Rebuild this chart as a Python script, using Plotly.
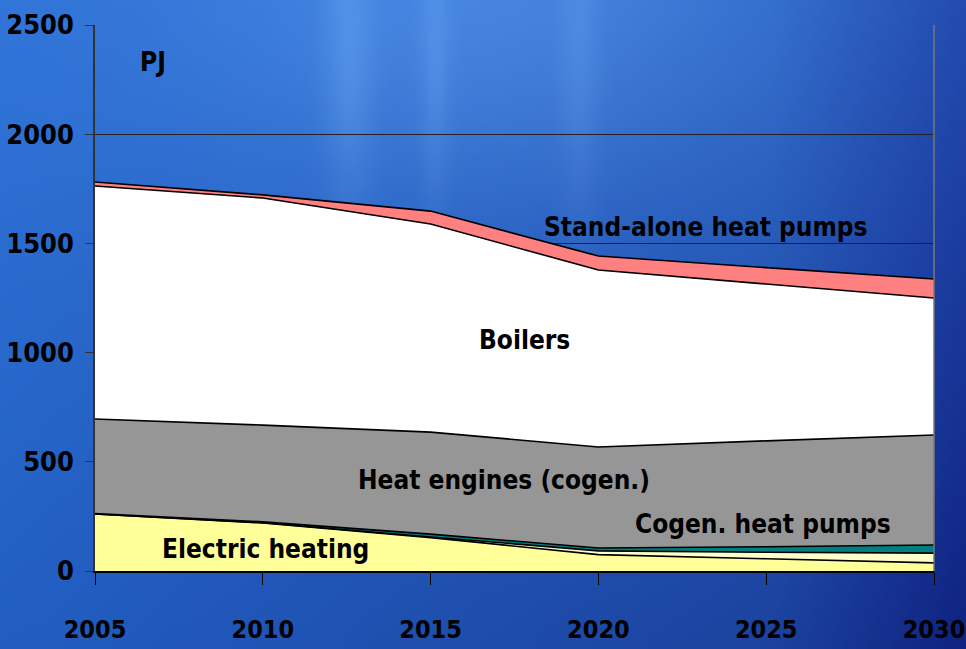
import base64, struct, zlib, math
import plotly.graph_objects as go

years = [2005, 2010, 2015, 2020, 2025, 2030]
electric_heating = [261, 220, 153, 75, 56, 37]
other_small = [0, 1, 3, 17, 30, 45]
cogen_heat_pumps = [2, 4, 13, 13, 25, 37]
heat_engines = [433, 443, 467, 463, 485, 504]
boilers = [1067, 1040, 953, 810, 718, 627]
standalone_heat_pumps = [18, 14, 59, 64, 75, 87]

y_ticks = [0, 500, 1000, 1500, 2000, 2500]
x_ticks = [2005, 2010, 2015, 2020, 2025, 2030]

FONT = "DejaVu Sans Condensed, Liberation Sans Narrow, Arial Narrow, Liberation Sans, Arial"

# ---- background gradient image (decorative) ----
def make_png(w, h, fn):
    raw = bytearray()
    for j in range(h):
        raw.append(0)
        for i in range(w):
            r, g, b = fn(i / (w - 1), j / (h - 1))
            raw += bytes((max(0, min(255, int(r))), max(0, min(255, int(g))), max(0, min(255, int(b)))))
    def chunk(t, d):
        c = struct.pack(">I", len(d)) + t + d
        return c + struct.pack(">I", zlib.crc32(t + d) & 0xffffffff)
    png = b"\x89PNG\r\n\x1a\n" + chunk(b"IHDR", struct.pack(">IIBBBBB", w, h, 8, 2, 0, 0, 0))
    png += chunk(b"IDAT", zlib.compress(bytes(raw), 9)) + chunk(b"IEND", b"")
    return "data:image/png;base64," + base64.b64encode(png).decode()

def bg(u, v):
    tl = (48, 116, 216); tr = (44, 100, 196); bl = (34, 94, 194); br = (26, 60, 150)
    c = [tl[k] * (1 - u) * (1 - v) + tr[k] * u * (1 - v) + bl[k] * (1 - u) * v + br[k] * u * v for k in range(3)]
    d = max(0.0, u - 0.8) / 0.2
    c = [c[0] - 10 * d, c[1] - 25 * d, c[2] - 20 * d]
    gl = math.exp(-(((u - 0.5) / 0.3) ** 2 + ((v - 0.0) / 0.3) ** 2))
    c = [c[0] + 25 * gl, c[1] + 25 * gl, c[2] + 18 * gl]
    for cx, wdt, amp in ((0.36, 0.025, 18), (0.45, 0.015, 14), (0.6, 0.02, 12)):
        s = math.exp(-((u - cx) / wdt) ** 2) * math.exp(-((v - 0.1) / 0.25) ** 2)
        c = [c[0] + amp * s, c[1] + amp * s, c[2] + amp * 0.6 * s]
    return c

bg_uri = make_png(120, 80, bg)

W, H = 966, 649
L, R, T, B = 95, 32, 25, 78
pw, ph = W - L - R, H - T - B

fig = go.Figure()
series = [
    ("Electric heating", electric_heating, "#FFFF99"),
    ("Other", other_small, "#FFFFCC"),
    ("Cogen. heat pumps", cogen_heat_pumps, "#008080"),
    ("Heat engines (cogen.)", heat_engines, "#969696"),
    ("Boilers", boilers, "#FFFFFF"),
    ("Stand-alone heat pumps", standalone_heat_pumps, "#FF8080"),
]
for name, vals, col in series:
    fig.add_trace(go.Scatter(x=years, y=vals, name=name, stackgroup="one", mode="lines",
                             line=dict(color="black", width=1.6), fillcolor=col))

labels = [
    ("PJ", 2006.73, 2330),
    ("Stand-alone heat pumps", 2023.2, 1575),
    ("Boilers", 2017.8, 1058),
    ("Heat engines (cogen.)", 2017.2, 417),
    ("Cogen. heat pumps", 2024.9, 215),
    ("Electric heating", 2010.07, 100),
]
for txt, xx, yy in labels:
    fig.add_annotation(x=xx, y=yy, text=txt, showarrow=False, xanchor="center", yanchor="middle",
                       font=dict(family=FONT, size=26, color="black", weight="bold"))

fig.add_shape(type="line", xref="paper", yref="paper", x0=1, x1=1, y0=0, y1=1,
              line=dict(color="#777777", width=1.5), layer="above")

fig.update_layout(
    width=W, height=H, margin=dict(l=L, r=R, t=T, b=B, autoexpand=False),
    paper_bgcolor="#2a62c4", plot_bgcolor="rgba(0,0,0,0)",
    showlegend=False,
    images=[dict(source=bg_uri, xref="paper", yref="paper", x=-L / pw, y=1 + T / ph,
                 sizex=W / pw, sizey=H / ph, sizing="stretch", layer="below", xanchor="left", yanchor="top")],
    xaxis=dict(range=[2005, 2030], tickvals=x_ticks, ticktext=[str(v) for v in x_ticks],
               showgrid=False, zeroline=False, showline=True, linecolor="black", linewidth=1.5,
               ticks="outside", ticklen=12, tickcolor="black", tickwidth=1,
               ticklabelstandoff=23, automargin=False, ticklabeloverflow="allow",
               tickfont=dict(family=FONT, size=25, color="black", weight="bold")),
    yaxis=dict(range=[0, 2500], tickvals=y_ticks, ticktext=[str(v) for v in y_ticks],
               showgrid=True, gridcolor="#222222", gridwidth=1, zeroline=False,
               showline=True, linecolor="#333333", linewidth=1.5,
               ticks="outside", ticklen=8, tickcolor="#333333",
               ticklabelstandoff=6, automargin=False, ticklabeloverflow="allow",
               tickfont=dict(family=FONT, size=27, color="black", weight="bold")),
)

fig.write_html("out.html", config={"displayModeBar": False},
               post_script="document.body.style.margin='0';document.body.style.overflow='hidden';")
